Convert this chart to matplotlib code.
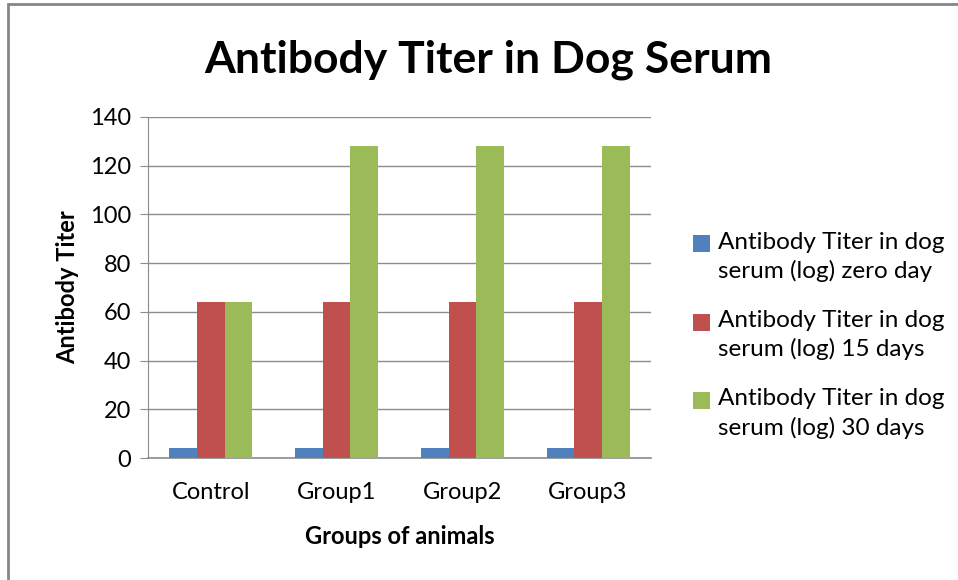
import numpy as np
import matplotlib.pyplot as plt
from matplotlib.legend_handler import HandlerPatch, update_from_first_child
from matplotlib.patches import Rectangle
from matplotlib.container import BarContainer

plt.rcParams['font.family'] = ['Lato', 'DejaVu Sans']

groups = ['Control', 'Group1', 'Group2', 'Group3']
zero_day = [4, 4, 4, 4]
days_15 = [64, 64, 64, 64]
days_30 = [64, 128, 128, 128]
series_names = ['Antibody Titer in dog\nserum (log) zero day',
                'Antibody Titer in dog\nserum (log) 15 days',
                'Antibody Titer in dog\nserum (log) 30 days']
colors = ['#4F81BD', '#C0504D', '#9BBB59']

fig = plt.figure(figsize=(9.58, 5.8), dpi=100)
ax = fig.add_axes([0.1545, 0.2103, 0.5250, 0.5880])

x = np.arange(len(groups))
w = 0.22
for i, vals in enumerate([zero_day, days_15, days_30]):
    ax.bar(x + (i - 1) * w, vals, w, color=colors[i], label=series_names[i], zorder=3)

ax.set_xlim(-0.5, len(groups) - 0.5)
ax.set_ylim(0, 140)
ax.set_yticks(range(0, 141, 20))
ax.set_xticks(x)
ax.set_xticklabels(groups)
ax.yaxis.grid(True, color='#8c8c8c', linewidth=1, zorder=0)
ax.tick_params(axis='y', length=6, color='#8c8c8c', labelsize=17, pad=6, direction='out')
ax.tick_params(axis='x', length=0, labelsize=17, pad=17)
for s in ['top', 'right']:
    ax.spines[s].set_visible(False)
ax.spines['left'].set_color('#8c8c8c')
ax.spines['bottom'].set_color('#8c8c8c')
ax.spines['bottom'].set_linewidth(1.2)

ax.set_ylabel('Antibody Titer', fontsize=17, fontweight='bold', labelpad=8)
ax.set_xlabel('Groups of animals', fontsize=17, fontweight='bold', labelpad=16)
fig.suptitle('Antibody Titer in Dog Serum', fontsize=32, fontweight='bold', x=0.51, y=0.932)


# legend squares sit next to the first line of each two-line label
def top_square(legend, orig_handle, xdescent, ydescent, width, height, fontsize):
    return Rectangle((-xdescent, -ydescent + 9.5), width, height)


leg = ax.legend(loc='center left', bbox_to_anchor=(1.04, 0.36), frameon=False, fontsize=17.5,
                handlelength=0.7, handleheight=0.7, handletextpad=0.35, labelspacing=1.15,
                handler_map={BarContainer: HandlerPatch(patch_func=top_square,
                                                        update_func=update_from_first_child)})
for t in leg.get_texts():
    t.set_linespacing(1.4)

# outer chart border (left and top visible)
fig.patches.append(plt.Rectangle((8 / 958, -0.1), 1.2, 1.1 - 4 / 580, transform=fig.transFigure,
                                 fill=False, edgecolor='#868686', linewidth=2))

fig.savefig('out.png', dpi=100)
